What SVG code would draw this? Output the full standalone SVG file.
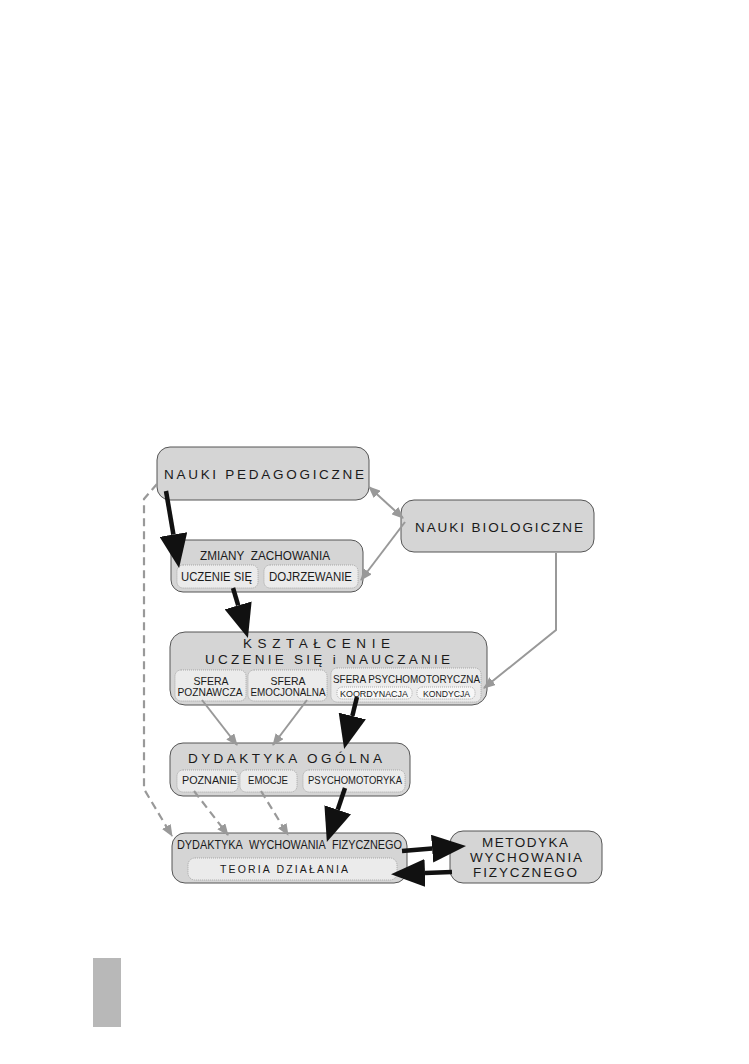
<svg xmlns="http://www.w3.org/2000/svg" width="749" height="1064" viewBox="0 0 749 1064">
<style>
.box{fill:#d5d5d5;stroke:#555;stroke-width:1}
.inner{fill:#ebebeb;stroke:#9a9a9a;stroke-width:0.8;stroke-dasharray:1 1}
.innerw{fill:#f7f7f7;stroke:#9a9a9a;stroke-width:0.8;stroke-dasharray:1 1}
text{font-family:"Liberation Sans",Arial,sans-serif;fill:#1a1a1a}
.big{font-size:13.5px}
.mid{font-size:12px}
.sm{font-size:10.5px}
.xs{font-size:9px}
.ga{fill:none;stroke:#999;stroke-width:2;marker-end:url(#gh)}
.gd{fill:none;stroke:#999;stroke-width:2.2;stroke-dasharray:8 5;marker-end:url(#gh)}
.ba{fill:none;stroke:#111;stroke-width:4.5;marker-end:url(#bh)}
</style>
<defs>
<marker id="gh" viewBox="0 0 12 10" refX="11" refY="5" markerWidth="12" markerHeight="10" markerUnits="userSpaceOnUse" orient="auto-start-reverse">
<path d="M0,0 L12,5 L0,10 z" fill="#999"/>
</marker>
<marker id="bh" viewBox="0 0 34 28" refX="0" refY="14" markerWidth="34" markerHeight="28" markerUnits="userSpaceOnUse" orient="auto">
<path d="M0,0 L34,14 L0,28 z" fill="#111"/>
</marker>
</defs>
<rect x="93" y="958" width="28" height="69" fill="#b8b8b8"/>
<g id="nauki-pedagogiczne">
<rect class="box" x="157" y="447" width="212" height="53" rx="13"/>
<text class="big" x="164" y="479" textLength="200" lengthAdjust="spacing">NAUKI PEDAGOGICZNE</text>
</g>
<g id="nauki-biologiczne">
<rect class="box" x="401" y="500" width="193" height="52" rx="13"/>
<text class="big" x="415" y="532" textLength="168" lengthAdjust="spacing">NAUKI BIOLOGICZNE</text>
</g>
<g id="zmiany-zachowania">
<rect class="box" x="171" y="540" width="192" height="52" rx="12"/>
<text class="mid" x="200" y="560" textLength="130" lengthAdjust="spacingAndGlyphs">ZMIANY&#160; ZACHOWANIA</text>
<rect class="inner" x="177" y="565" width="81" height="23" rx="6"/>
<text class="mid" x="181" y="581" textLength="71" lengthAdjust="spacingAndGlyphs">UCZENIE SIĘ</text>
<rect class="inner" x="264" y="565" width="94" height="23" rx="6"/>
<text class="mid" x="269" y="581" textLength="83" lengthAdjust="spacingAndGlyphs">DOJRZEWANIE</text>
</g>
<g id="ksztalcenie">
<rect class="box" x="170" y="632" width="317" height="73" rx="15"/>
<text class="big" x="243" y="648" textLength="147" lengthAdjust="spacing">KSZTAŁCENIE</text>
<text class="big" x="205" y="664" textLength="245" lengthAdjust="spacing">UCZENIE SIĘ i NAUCZANIE</text>
<rect class="inner" x="175" y="670" width="71" height="31" rx="6"/>
<text class="sm" x="211" y="685" text-anchor="middle">SFERA</text>
<text class="sm" x="210" y="696" text-anchor="middle" textLength="65" lengthAdjust="spacingAndGlyphs">POZNAWCZA</text>
<rect class="inner" x="248" y="670" width="79" height="31" rx="6"/>
<text class="sm" x="288" y="685" text-anchor="middle">SFERA</text>
<text class="sm" x="288" y="696" text-anchor="middle" textLength="75" lengthAdjust="spacingAndGlyphs">EMOCJONALNA</text>
<rect class="inner" x="331" y="668" width="150" height="34" rx="6"/>
<text class="sm" x="333" y="683" textLength="147" lengthAdjust="spacingAndGlyphs">SFERA PSYCHOMOTORYCZNA</text>
<rect class="innerw" x="337" y="687" width="75" height="12" rx="5"/>
<text class="xs" x="340" y="697" textLength="68" lengthAdjust="spacingAndGlyphs">KOORDYNACJA</text>
<rect class="innerw" x="417" y="687" width="58" height="12" rx="5"/>
<text class="xs" x="423" y="697" textLength="47" lengthAdjust="spacingAndGlyphs">KONDYCJA</text>
</g>
<g id="dydaktyka-ogolna">
<rect class="box" x="170" y="743" width="240" height="53" rx="13"/>
<text class="big" x="188" y="763" textLength="194" lengthAdjust="spacing">DYDAKTYKA OGÓLNA</text>
<rect class="inner" x="177" y="770" width="61" height="22" rx="6"/>
<text class="sm" x="182" y="784" textLength="55" lengthAdjust="spacingAndGlyphs">POZNANIE</text>
<rect class="inner" x="240" y="770" width="57" height="22" rx="6"/>
<text class="sm" x="248" y="784" textLength="40" lengthAdjust="spacingAndGlyphs">EMOCJE</text>
<rect class="inner" x="303" y="770" width="102" height="22" rx="6"/>
<text class="sm" x="308" y="784" textLength="94" lengthAdjust="spacingAndGlyphs">PSYCHOMOTORYKA</text>
</g>
<g id="dydaktyka-wf">
<rect class="box" x="172" y="833" width="235" height="50" rx="13"/>
<text class="mid" x="177" y="849" textLength="225" lengthAdjust="spacingAndGlyphs">DYDAKTYKA&#160; WYCHOWANIA&#160; FIZYCZNEGO</text>
<rect class="inner" x="188" y="858" width="209" height="22" rx="7"/>
<text class="sm" x="220" y="873" textLength="128" lengthAdjust="spacing">TEORIA DZIAŁANIA</text>
</g>
<g id="metodyka">
<rect class="box" x="450" y="831" width="152" height="52" rx="13"/>
<text class="big" x="482" y="847" textLength="86" lengthAdjust="spacing">METODYKA</text>
<text class="big" x="470" y="862" textLength="112" lengthAdjust="spacing">WYCHOWANIA</text>
<text class="big" x="473" y="877" textLength="104" lengthAdjust="spacing">FIZYCZNEGO</text>
</g>
<g id="connectors">
<path class="ga" d="M369,487 L403,518" style="marker-start:url(#gh)"/>
<path class="ga" d="M405,522 L361,580"/>
<path class="ga" d="M556,553 L556,630 L484,688"/>
<path class="ga" d="M202,700 L237,745"/>
<path class="ga" d="M307,700 L273,745"/>
<path class="gd" d="M194,791 L228,835"/>
<path class="gd" d="M261,791 L288,835"/>
<path class="gd" d="M157,484 L144,499 L144,789 L172,836"/>
<path class="ba" d="M166,491 L173.4,534.5"/>
<path class="ba" d="M233,588 L238.2,605.4"/>
<path class="ba" d="M357,697 L352.3,716"/>
<path class="ba" d="M345,788 L337.7,809.7"/>
<path class="ba" d="M402,851 L432.1,848.6"/>
<path class="ba" d="M452,872 L425,873"/>
</g>
</svg>
